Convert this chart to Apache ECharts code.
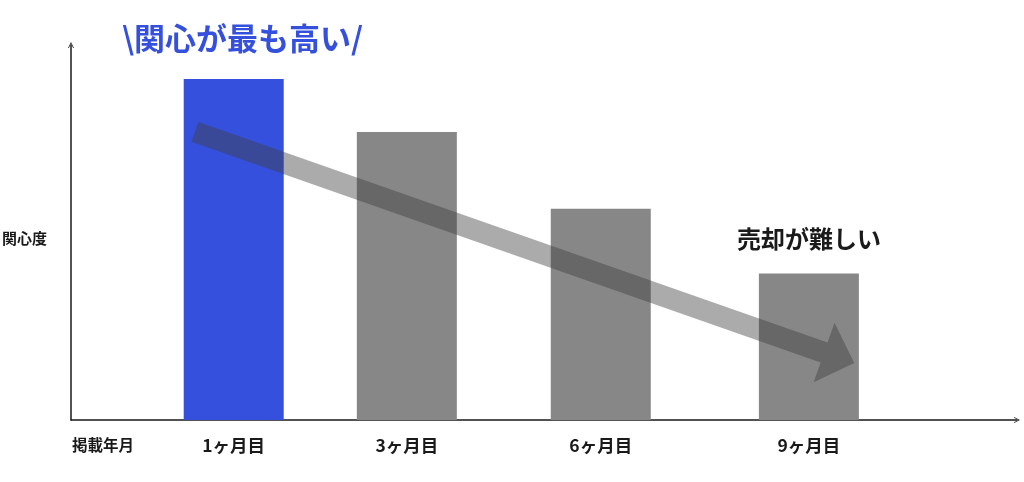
<!DOCTYPE html>
<html><head><meta charset="utf-8">
<script src="https://cdn.jsdelivr.net/npm/echarts@6/dist/echarts.min.js"></script>
<style>html,body{margin:0;padding:0;background:#fff}#c{width:1024px;height:482px}</style>
</head><body><div id="c"></div>
<script>
// ---- data ----
const categories = ['1ヶ月目', '3ヶ月目', '6ヶ月目', '9ヶ月目'];
const xPos = [17.2, 35.5, 56.0, 78.0];           // slot positions along the timeline axis
const interest = [100, 84.5, 62, 43];            // relative interest (関心度)
const arrowFrom = [13.1, 84.5];                  // trend arrow start [x, y]
const arrowTo = [82.8, 16.7];                    // trend arrow tip [x, y]
const titleText = '\\関心が最も高い/';
const noteText = '売却が難しい';
const yName = '関心度';
const xName = '掲載年月';

const FONT = '"Noto Sans CJK JP", "Noto Sans", sans-serif';
const BLUE = '#3550DC', GRAY = '#878787', INK = '#1a1a1a';
const chevron = 'path://M0,10 L5,0 L10,10 L8.6,10 L5,2.6 L1.4,10 Z';

const barData = interest.map((v, i) => {
  const item = { value: [xPos[i], v], itemStyle: { color: i === 0 ? BLUE : GRAY } };
  if (i === interest.length - 1) {
    item.label = { show: true, position: 'top', distance: 23, formatter: noteText,
      fontFamily: FONT, fontWeight: 'bold', fontSize: 24, lineHeight: 24, color: INK };
  }
  return item;
});

const chart = echarts.init(document.getElementById('c'));
chart.setOption({
  animation: false,
  backgroundColor: '#fff',
  title: [
    { text: titleText, left: 122, top: 20, padding: 0,
      textStyle: { fontFamily: FONT, fontWeight: 'bold', fontSize: 31, lineHeight: 36, color: BLUE } },
    { text: yName, left: 2, top: 229, padding: 0,
      textStyle: { fontFamily: FONT, fontWeight: 'bold', fontSize: 15, lineHeight: 18, color: INK } },
    { text: xName, left: 72, top: 436, padding: 0,
      textStyle: { fontFamily: FONT, fontWeight: 'bold', fontSize: 15.5, lineHeight: 18, color: INK } }
  ],
  grid: { left: 71, right: 7, top: 45, bottom: 62 },
  xAxis: {
    type: 'value', min: 0, max: 100,
    axisLine: { show: true, lineStyle: { color: INK, width: 1.5 }, symbol: ['none', chevron], symbolSize: [10, 6] },
    axisTick: { show: false },
    splitLine: { show: false },
    axisLabel: {
      customValues: xPos,
      margin: 15,
      fontFamily: FONT, fontWeight: 'bold', fontSize: 17.5, lineHeight: 20, color: INK,
      formatter: function (v) {
        let best = 0;
        xPos.forEach((p, i) => { if (Math.abs(p - v) < Math.abs(xPos[best] - v)) best = i; });
        return categories[best];
      }
    }
  },
  yAxis: {
    type: 'value', min: 0, max: 110,
    axisLine: { show: true, lineStyle: { color: INK, width: 1.5 }, symbol: ['none', chevron], symbolSize: [9, 6] },
    axisTick: { show: false },
    splitLine: { show: false },
    axisLabel: { show: false }
  },
  series: [
    { type: 'bar', barWidth: 100, data: barData, z: 2 },
    {
      type: 'custom', z: 5,
      encode: { x: [0, 2], y: [1, 3] },
      data: [[arrowFrom[0], arrowFrom[1], arrowTo[0], arrowTo[1]]],
      renderItem: function (params, api) {
        const p0 = api.coord([api.value(0), api.value(1)]);
        const p1 = api.coord([api.value(2), api.value(3)]);
        const dx = p1[0] - p0[0], dy = p1[1] - p0[1];
        const L = Math.sqrt(dx * dx + dy * dy);
        const ux = dx / L, uy = dy / L, nx = -uy, ny = ux;
        const sw = 21 / 2, hw = 63 / 2, hl = 32;
        const bx = p1[0] - ux * hl, by = p1[1] - uy * hl;
        const pts = [
          [p0[0] + nx * sw, p0[1] + ny * sw],
          [bx + nx * sw, by + ny * sw],
          [bx + nx * hw, by + ny * hw],
          [p1[0], p1[1]],
          [bx - nx * hw, by - ny * hw],
          [bx - nx * sw, by - ny * sw],
          [p0[0] - nx * sw, p0[1] - ny * sw]
        ];
        return { type: 'polygon', shape: { points: pts }, style: { fill: 'rgba(64,64,64,0.44)' } };
      }
    }
  ]
});
</script></body></html>
